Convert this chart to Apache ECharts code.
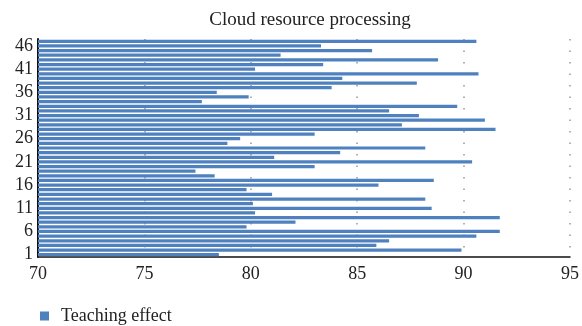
<!DOCTYPE html>
<html>
<head>
<meta charset="utf-8">
<script src="https://cdn.jsdelivr.net/npm/echarts@6/dist/echarts.min.js"></script>
<style>
  html, body { margin: 0; padding: 0; background: #fff; }
  #chart { width: 582px; height: 326px; }
</style>
</head>
<body>
<div id="chart"></div>
<script>
// Horizontal bars: one per sample, 1..47
const categories = Array.from({ length: 47 }, (_, i) => String(i + 1));
const teachingEffect = [
  78.5, 89.9, 85.9, 86.5, 90.6, 91.7, 79.8, 82.1, 91.7, 80.2,
  88.5, 80.1, 88.2, 81.0, 79.8, 86.0, 88.6, 78.3, 77.4, 83.0,
  90.4, 81.1, 84.2, 88.2, 78.9, 79.5, 83.0, 91.5, 87.1, 91.0,
  87.9, 86.5, 89.7, 77.7, 79.9, 78.4, 83.8, 87.8, 84.3, 90.7,
  80.2, 83.4, 88.8, 81.4, 85.7, 83.3, 90.6
];
const xMin = 70, xMax = 95, xStep = 5;

const serif = '"Liberation Serif", "DejaVu Serif", serif';
const chart = echarts.init(document.getElementById('chart'));
chart.setOption({
  animation: false,
  title: {
    text: 'Cloud resource processing',
    left: 305,
    textAlign: 'center',
    top: 6,
    textStyle: { fontFamily: serif, fontSize: 19, fontWeight: 'normal', color: '#222' }
  },
  legend: {
    left: 35,
    top: 302,
    icon: 'rect',
    itemWidth: 9,
    itemHeight: 9,
    textStyle: { fontFamily: serif, fontSize: 18, color: '#222', padding: [0, 0, 0, 7] }
  },
  grid: { left: 38, right: 10, top: 39, bottom: 69 },
  xAxis: {
    type: 'value',
    min: xMin,
    max: xMax,
    interval: xStep,
    axisLine: { show: true, lineStyle: { color: '#111', width: 1.5 } },
    axisTick: { show: false },
    axisLabel: { fontFamily: serif, fontSize: 18, color: '#222', margin: 8 },
    splitLine: { show: true, lineStyle: { color: '#999', width: 1.5, type: [1.5, 10] } }
  },
  yAxis: {
    type: 'category',
    data: categories,
    axisLine: { lineStyle: { color: '#111', width: 2 } },
    axisTick: { show: false },
    axisLabel: { interval: 4, fontFamily: serif, fontSize: 18, color: '#222', margin: 5 }
  },
  series: [{
    name: 'Teaching effect',
    type: 'bar',
    data: teachingEffect,
    barWidth: '70%',
    itemStyle: { color: '#4f81bf' }
  }]
});
</script>
</body>
</html>
